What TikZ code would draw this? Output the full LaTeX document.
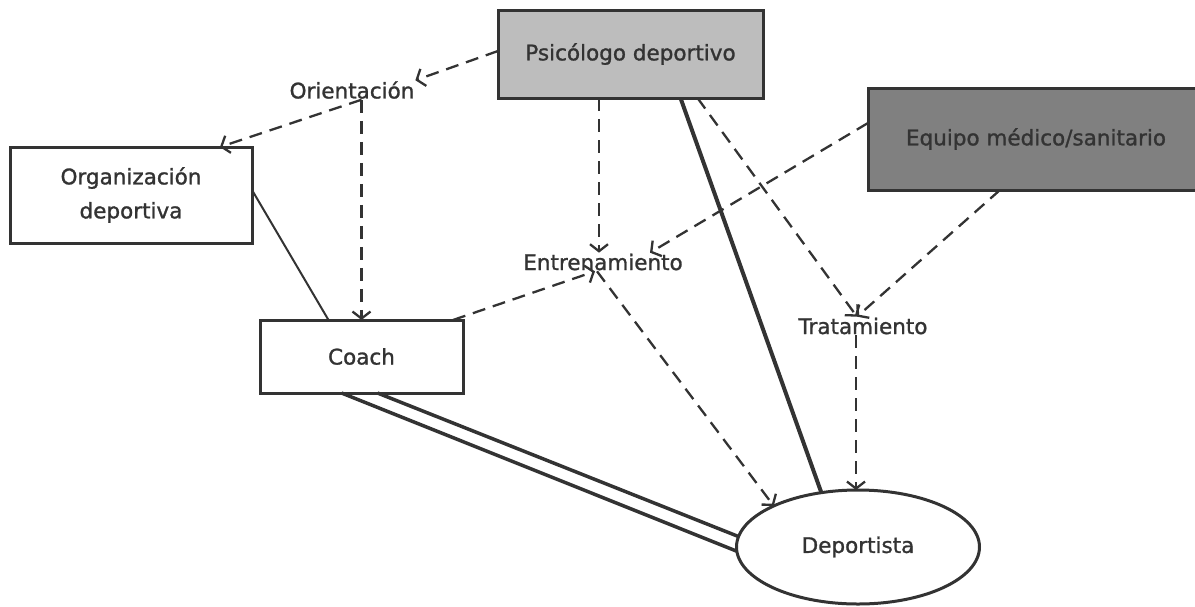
\documentclass[tikz,border=0pt]{standalone}
\usepackage{fontspec}
\setmainfont{DejaVu Sans}[FakeBold=1.2]
\usetikzlibrary{arrows.meta,shapes.geometric}

\definecolor{ink}{HTML}{333333}
\definecolor{lightbox}{HTML}{BDBDBD}
\definecolor{darkbox}{HTML}{808080}

\tikzset{
  every node/.style={text=ink, font=\fontsize{21.5}{34}\selectfont, outer sep=0pt},
  actor/.style={draw=ink, line width=3pt, rectangle, inner sep=0pt, align=center},
  label/.style={inner sep=1pt},
  flow/.style={draw=ink, line width=2.3pt, dash pattern=on 13pt off 8pt,
    -{Straight Barb[length=7pt,width=18pt,line width=2.3pt]}},
  link/.style={draw=ink, line width=2pt},
  strong/.style={draw=ink, line width=4pt},
  twin/.style={draw=ink, line width=3.5pt}
}

\begin{document}
\begin{tikzpicture}[x=1pt,y=-1pt]
\useasboundingbox (0,0) rectangle (1195,606);

% actors
\node[actor, fill=lightbox, minimum width=265pt, minimum height=88pt] (psi) at (630.5,54) {Psicólogo deportivo};
\node[actor, fill=darkbox, minimum width=336pt, minimum height=102pt] (equ) at (1036,139) {Equipo médico/sanitario};
\node[actor, fill=white, minimum width=242pt, minimum height=96pt] (org) at (131,195) {Organización\\deportiva};
\node[actor, fill=white, minimum width=203pt, minimum height=73pt] (coach) at (361.5,356.5) {Coach};
\node[draw=ink, line width=3pt, ellipse, inner sep=0pt, minimum width=243pt, minimum height=114pt] (dep) at (858,547) {Deportista};

% activities
\node[label] (ori) at (352,90) {Orientación};
\node[label] (ent) at (603,262) {Entrenamiento};
\node[label] (tra) at (863,326) {Tratamiento};

\coordinate (os) at (coach.north |- ori.south);
\coordinate (entin) at ([xshift=-4pt]ent.north);

% dashed flows
\draw[flow] ([yshift=3pt]psi.west) -- (ori.north east);
\draw[flow] (os) -- ([xshift=89pt]org.north);
\draw[flow] (os) -- (coach.north);
\draw[flow] (psi.south -| entin) -- (entin);
\draw[flow] ([yshift=16pt]equ.west) -- ([xshift=47pt]ent.north);
\draw[flow] ([xshift=-10pt]coach.north east) -- ([xshift=-8pt]ent.south);
\draw[flow] ([xshift=-6pt]ent.south) -- (dep.154);
\draw[flow] ([xshift=67pt]psi.south) -- ([xshift=-6pt]tra.north);
\draw[flow] ([xshift=-36pt]equ.south) -- ([xshift=-6pt]tra.north);
\draw[flow] ([xshift=-7pt]tra.south) -- ([xshift=-2pt]dep.north);

% solid links
\draw[link] ([yshift=5pt]org.east) -- ([xshift=-33pt]coach.north);
\draw[strong] ([xshift=50pt]psi.south) -- (dep.124);
\draw[twin] ([xshift=-20pt]coach.south) -- (dep.182);
\draw[twin] ([xshift=16pt]coach.south) -- (dep.175);
\end{tikzpicture}
\end{document}
